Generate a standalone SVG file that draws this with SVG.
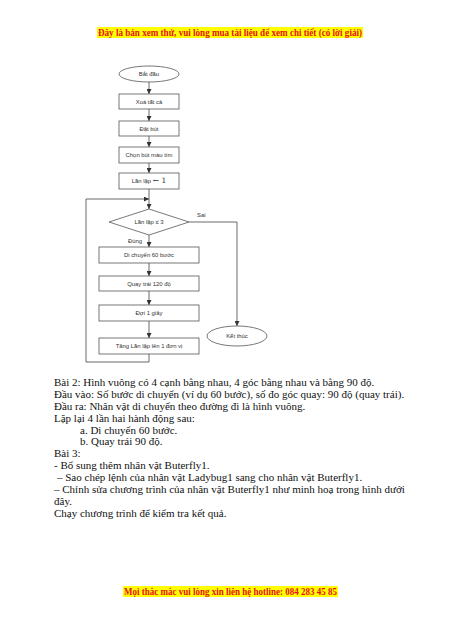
<svg xmlns="http://www.w3.org/2000/svg" width="450" height="636" viewBox="0 0 450 636">
<defs>
<marker id="ah" viewBox="0 0 6 6" refX="6" refY="3" markerWidth="5" markerHeight="5" orient="auto" markerUnits="userSpaceOnUse">
<path d="M0,0 L6,3 L0,6 z" fill="#333"/>
</marker>
<style>
.shape{fill:#fff;stroke:#555;stroke-width:0.8}
.conn{fill:none;stroke:#444;stroke-width:0.8}
.ft{font-family:"Liberation Sans",Arial,sans-serif;font-size:5.9px;fill:#333;text-anchor:middle}
.lbl{font-family:"Liberation Sans",Arial,sans-serif;font-size:5.9px;fill:#333}
.body{font-family:"Liberation Serif","Times New Roman",serif;font-size:11px;fill:#111}
.hdr{font-family:"Liberation Serif","Times New Roman",serif;font-size:9.6px;font-weight:bold;fill:#e8101a}
</style>
</defs>
<rect width="450" height="636" fill="#fff"/>
<g id="header">
<rect x="97" y="27" width="266" height="11" fill="#ffff00"/>
<text class="hdr" x="98" y="35.8" textLength="264" lengthAdjust="spacingAndGlyphs">Đây là bản xem thử, vui lòng mua tài liệu để xem chi tiết (có lời giải)</text>
</g>
<g id="connectors">
<line class="conn" x1="149" y1="82" x2="149" y2="94" marker-end="url(#ah)"/>
<line class="conn" x1="149" y1="109" x2="149" y2="121" marker-end="url(#ah)"/>
<line class="conn" x1="149" y1="136" x2="149" y2="147" marker-end="url(#ah)"/>
<line class="conn" x1="149" y1="163" x2="149" y2="173" marker-end="url(#ah)"/>
<line class="conn" x1="149" y1="189" x2="149" y2="209" marker-end="url(#ah)"/>
<line class="conn" x1="149" y1="235" x2="149" y2="247" marker-end="url(#ah)"/>
<line class="conn" x1="149" y1="263" x2="149" y2="276" marker-end="url(#ah)"/>
<line class="conn" x1="149" y1="291" x2="149" y2="305" marker-end="url(#ah)"/>
<line class="conn" x1="149" y1="321" x2="149" y2="338" marker-end="url(#ah)"/>
<polyline class="conn" points="149,354 149,362 86,362 86,199 149,199" marker-end="url(#ah)"/>
<polyline class="conn" points="189,222 237,222 237,326" marker-end="url(#ah)"/>
<text class="lbl" x="197" y="217">Sai</text>
<text class="lbl" x="128" y="243">Đúng</text>
</g>
<g id="start"><ellipse class="shape" cx="149" cy="74" rx="30" ry="8"/><text class="ft" x="149" y="76">Bắt đầu</text></g>
<g id="n1"><rect class="shape" x="119" y="94" width="60" height="15"/><text class="ft" x="149" y="103.5">Xoá tất cả</text></g>
<g id="n2"><rect class="shape" x="119" y="121" width="60" height="15"/><text class="ft" x="149" y="130.5">Đặt bút</text></g>
<g id="n3"><rect class="shape" x="119" y="147" width="60" height="16"/><text class="ft" x="149" y="157">Chọn bút màu tím</text></g>
<g id="n4"><rect class="shape" x="119" y="173" width="60" height="16"/><text class="ft" x="149" y="183.3">Lần lặp <tspan font-family="'DejaVu Serif',serif" font-size="7.5">← 1</tspan></text></g>
<g id="cond"><polygon class="shape" points="149,209 189,222 149,235 109,222"/><text class="ft" x="149" y="224">Lần lặp ≤ 3</text></g>
<g id="n5"><rect class="shape" x="99" y="247" width="100" height="16"/><text class="ft" x="149" y="257">Di chuyển 60 bước</text></g>
<g id="n6"><rect class="shape" x="99" y="276" width="100" height="15"/><text class="ft" x="149" y="285.5">Quay trái 120 độ</text></g>
<g id="n7"><rect class="shape" x="99" y="305" width="100" height="16"/><text class="ft" x="149" y="315">Đợi 1 giây</text></g>
<g id="n8"><rect class="shape" x="99" y="338" width="100" height="16"/><text class="ft" x="149" y="348">Tăng Lần lặp lên 1 đơn vị</text></g>
<g id="end"><ellipse class="shape" cx="237" cy="336" rx="30" ry="10"/><text class="ft" x="237" y="338">Kết thúc</text></g>
<g id="bodytext">
<text class="body" x="54" y="386">Bài 2: Hình vuông có 4 cạnh bằng nhau, 4 góc bằng nhau và bằng 90 độ.</text>
<text class="body" x="54" y="397.9">Đầu vào: Số bước di chuyển (ví dụ 60 bước), số đo góc quay: 90 độ (quay trái).</text>
<text class="body" x="54" y="409.8">Đầu ra: Nhân vật di chuyển theo đường đi là hình vuông.</text>
<text class="body" x="54" y="421.6">Lặp lại 4 lần hai hành động sau:</text>
<text class="body" x="80" y="433.5">a. Di chuyển 60 bước.</text>
<text class="body" x="80" y="445.4">b. Quay trái 90 độ.</text>
<text class="body" x="54" y="457.3">Bài 3:</text>
<text class="body" x="54" y="469.2">- Bổ sung thêm nhân vật Buterfly1.</text>
<text class="body" x="57" y="481">– Sao chép lệnh của nhân vật Ladybug1 sang cho nhân vật Buterfly1.</text>
<text class="body" x="54" y="492.9">– Chỉnh sửa chương trình của nhân vật Buterfly1 như minh hoạ trong hình dưới</text>
<text class="body" x="54" y="504.8">đây.</text>
<text class="body" x="54" y="516.7">Chạy chương trình để kiểm tra kết quả.</text>
</g>
<g id="footer">
<rect x="123" y="586" width="215" height="11" fill="#ffff00"/>
<text class="hdr" x="124" y="594.8" textLength="213" lengthAdjust="spacingAndGlyphs">Mọi thắc mắc vui lòng xin liên hệ hotline: 084 283 45 85</text>
</g>
</svg>
